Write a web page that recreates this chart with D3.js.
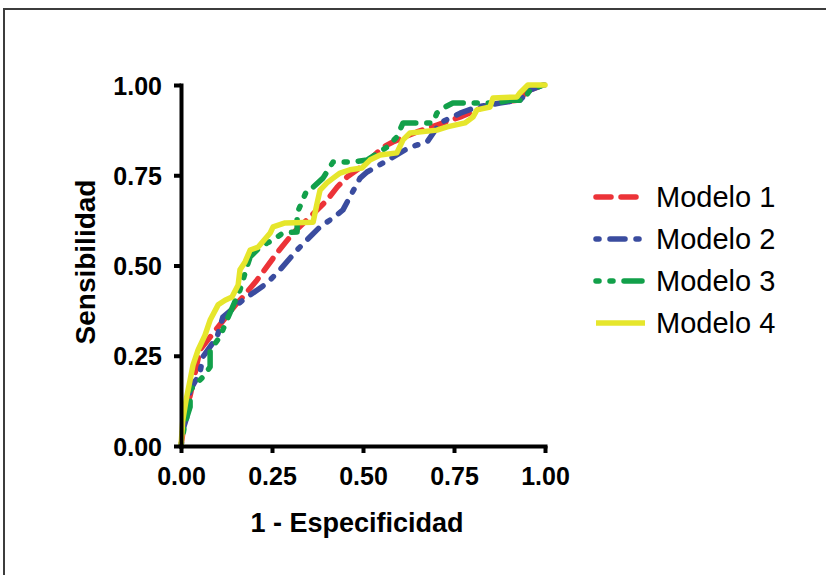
<!DOCTYPE html>
<html lang="es">
<head>
  <meta charset="UTF-8">
  <title>Curvas ROC</title>
  <style>
    body{ margin: 0; background: #fff; }
    svg{ display: block; font-family: "Liberation Sans", Arial, sans-serif; }
  </style>
</head>
<body>
<svg width="826" height="575"></svg>

<script src="https://cdn.jsdelivr.net/npm/d3@7/dist/d3.min.js"></script>
<script>
  // datos: [1 - especificidad, sensibilidad]
  var modelos = ['Modelo 1', 'Modelo 2', 'Modelo 3', 'Modelo 4'];
  var ticks = [0, 0.25, 0.5, 0.75, 1];

  var modelo1 = [[0,0],[0.008,0.058],[0.016,0.100],[0.033,0.175],[0.052,0.266],[0.080,0.302],[0.154,0.396],
    [0.170,0.413],[0.209,0.460],[0.264,0.535],[0.308,0.590],[0.354,0.634],[0.401,0.681],[0.429,0.717],
    [0.456,0.745],[0.484,0.765],[0.527,0.801],[0.555,0.828],[0.582,0.842],[0.648,0.870],[0.703,0.889],
    [0.766,0.911],[0.813,0.931],[0.857,0.950],[0.923,0.958],[0.959,0.986],[0.995,1],[1,1]];

  var modelo2 = [[0,0],[0.005,0.044],[0.016,0.080],[0.025,0.155],[0.052,0.202],[0.060,0.247],[0.099,0.302],
    [0.115,0.357],[0.170,0.404],[0.236,0.451],[0.272,0.488],[0.319,0.543],[0.346,0.571],[0.382,0.607],
    [0.418,0.632],[0.445,0.654],[0.464,0.690],[0.492,0.742],[0.511,0.759],[0.555,0.784],[0.629,0.828],
    [0.676,0.842],[0.712,0.895],[0.767,0.922],[0.813,0.939],[0.876,0.950],[0.931,0.958],[0.959,0.986],
    [0.995,1],[1,1]];

  var modelo3 = [[0,0],[0.011,0.064],[0.025,0.108],[0.025,0.155],[0.060,0.191],[0.080,0.219],[0.080,0.266],
    [0.107,0.302],[0.126,0.349],[0.162,0.432],[0.181,0.496],[0.190,0.524],[0.209,0.543],[0.236,0.562],
    [0.253,0.571],[0.280,0.590],[0.319,0.593],[0.319,0.645],[0.346,0.709],[0.363,0.717],[0.390,0.742],
    [0.418,0.787],[0.470,0.787],[0.511,0.792],[0.566,0.828],[0.593,0.856],[0.610,0.895],[0.692,0.895],
    [0.703,0.922],[0.720,0.936],[0.747,0.950],[0.868,0.950],[0.904,0.958],[0.940,0.958],[0.959,0.986],
    [0.995,1],[1,1]];

  var modelo4 = [[0,0],[0.005,0.072],[0.014,0.127],[0.025,0.183],[0.033,0.224],[0.047,0.266],[0.066,0.307],
    [0.080,0.349],[0.102,0.391],[0.121,0.404],[0.140,0.413],[0.157,0.446],[0.162,0.488],[0.176,0.510],
    [0.190,0.543],[0.212,0.551],[0.245,0.590],[0.253,0.607],[0.286,0.618],[0.363,0.620],[0.374,0.673],
    [0.382,0.709],[0.401,0.729],[0.418,0.742],[0.437,0.756],[0.464,0.765],[0.497,0.770],[0.519,0.792],
    [0.547,0.806],[0.593,0.812],[0.610,0.848],[0.629,0.867],[0.703,0.875],[0.731,0.884],[0.780,0.895],
    [0.802,0.911],[0.813,0.931],[0.849,0.939],[0.857,0.964],[0.923,0.967],[0.931,0.978],[0.953,1],[1,1]];

  var series = [modelo1, modelo2, modelo3, modelo4];
  var colores = ['#ec3338', '#3a4c9f', '#12a04a', '#e6e62c'];
  var guiones = ['15,10', '3,11,15,11', '3,11,3,11,18,11', null];

  var svg = d3.select('svg');
  var marge = {top: 85, left: 181, right: 281, bottom: 129};
  var width = 826 - marge.left - marge.right, height = 575 - marge.top - marge.bottom;

  // marco
  svg.append('path').attr('d', 'M4,575 V9 H826').attr('fill', 'none')
    .attr('stroke', '#3c3c3c').attr('stroke-width', 2);

  var x = d3.scaleLinear().domain([0, 1]).range([0, width]);
  var y = d3.scaleLinear().domain([0, 1]).range([height, 0]);
  var g = svg.append('g').attr('transform', `translate(${marge.left}, ${marge.top})`);

  var line = d3.line().x(function (d) { return x(d[0]); }).y(function (d) { return y(d[1]); });

  //curvas
  g.selectAll('.curva').data(series).enter().append('path')
    .attr('class', 'curva')
    .attr('d', line)
    .attr('fill', 'none')
    .attr('stroke', function (d, i) { return colores[i]; })
    .attr('stroke-width', 5.5)
    .attr('stroke-linecap', 'round')
    .attr('stroke-linejoin', 'round')
    .attr('stroke-dasharray', function (d, i) { return guiones[i]; });

  var fmt = d3.format('.2f');
  var xAxis = g.append('g').attr('transform', `translate(0, ${height})`)
    .call(d3.axisBottom(x).tickValues(ticks).tickFormat(fmt).tickSize(7).tickSizeOuter(0).tickPadding(14));
  var yAxis = g.append('g')
    .call(d3.axisLeft(y).tickValues(ticks).tickFormat(fmt).tickSize(7).tickSizeOuter(0).tickPadding(12));

  [xAxis, yAxis].forEach(function (a) {
    a.select('.domain').attr('stroke', '#000').attr('stroke-width', 4).attr('stroke-linecap', 'square');
    a.selectAll('.tick line').attr('stroke', '#000').attr('stroke-width', 4);
    a.selectAll('.tick text').attr('fill', '#000').style('font-size', '25px').style('font-weight', 'bold');
  });
  yAxis.selectAll('.tick text').attr('dy', '0.36em');

  // titulos de ejes
  svg.append('text').attr('x', 357).attr('y', 532).attr('text-anchor', 'middle')
    .style('font-size', '27px').style('font-weight', 'bold').text('1 - Especificidad');
  svg.append('text').attr('transform', 'translate(95, 262) rotate(-90)').attr('text-anchor', 'middle')
    .style('font-size', '28px').style('font-weight', 'bold').text('Sensibilidad');

  // leyenda
  var leg = svg.selectAll('.leg').data(modelos).enter().append('g')
    .attr('transform', function (d, i) { return `translate(593, ${197 + i * 42})`; });
  leg.append('line').attr('x1', 3).attr('x2', 52).attr('y1', 0).attr('y2', 0)
    .attr('stroke', function (d, i) { return colores[i]; })
    .attr('stroke-width', 5.5)
    .attr('stroke-linecap', function (d, i) { return i < 3 ? 'round' : 'butt'; })
    .attr('stroke-dasharray', function (d, i) { return guiones[i]; });
  leg.append('text').attr('x', 63).attr('y', 10).style('font-size', '29px').text(function (d) { return d; });
</script>
</body>
</html>
